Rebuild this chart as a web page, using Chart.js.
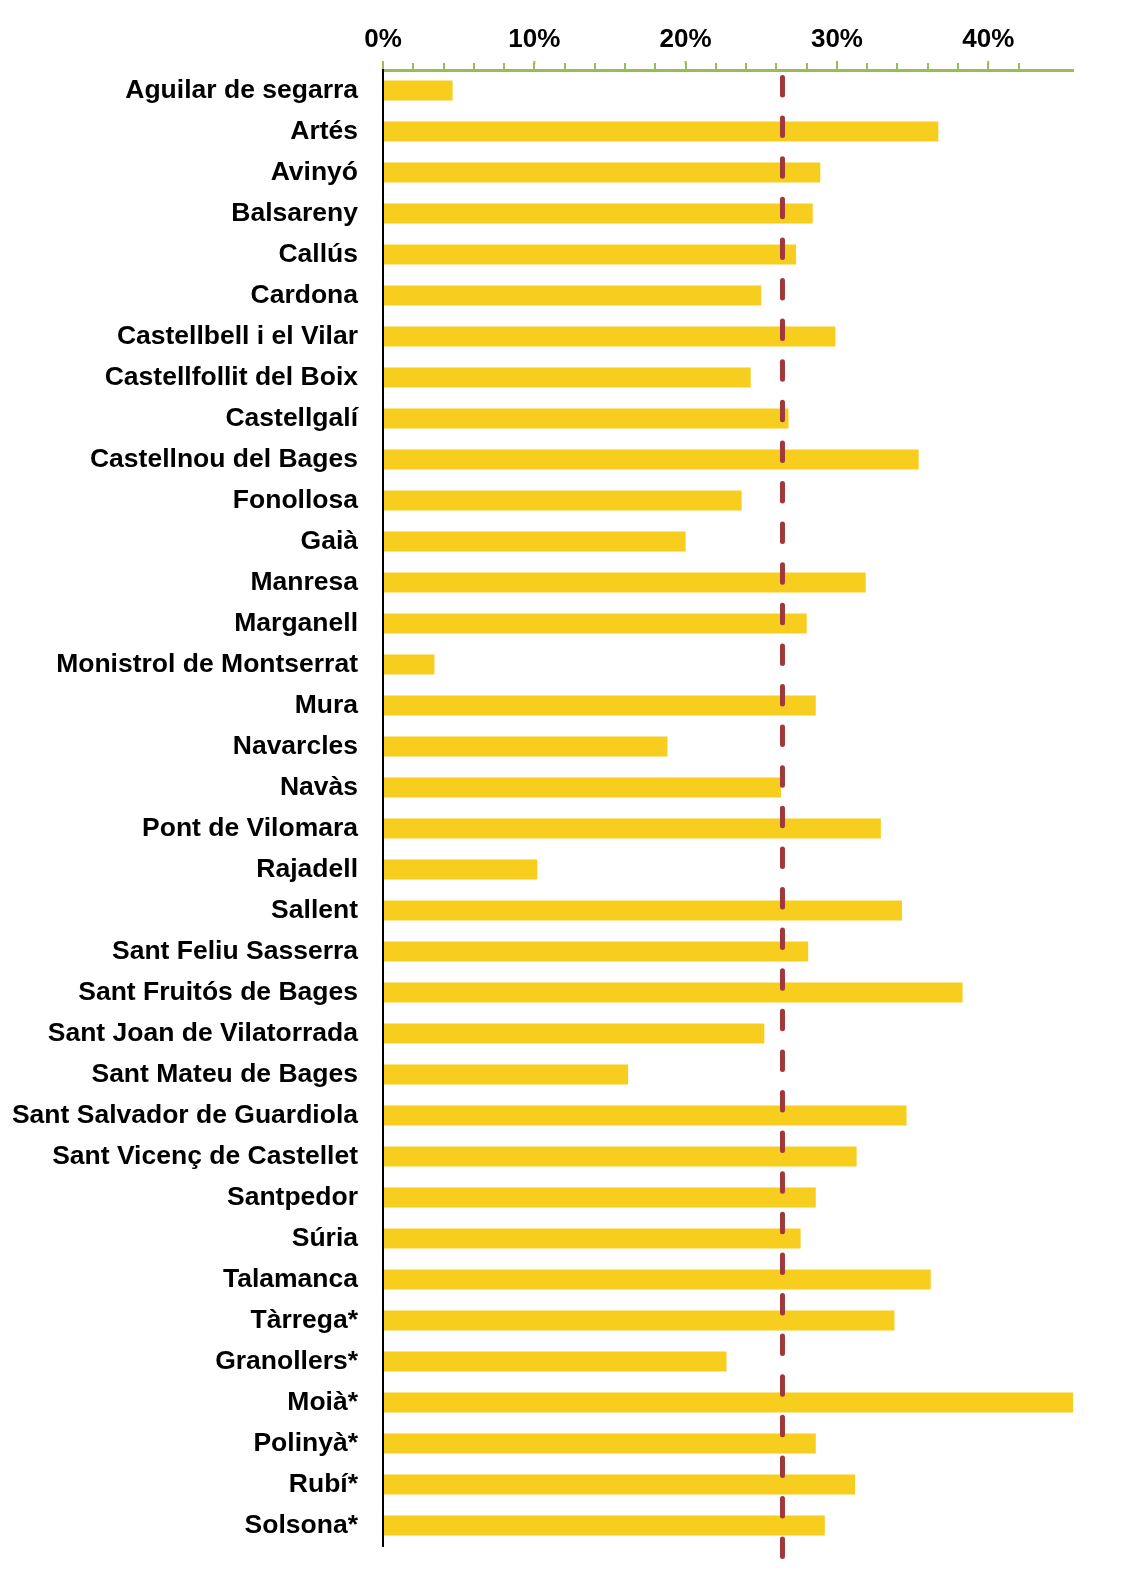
<!DOCTYPE html>
<html>
<head>
<meta charset="utf-8">
<script src="https://cdn.jsdelivr.net/npm/chart.js@4"></script>
<style>
  html, body { margin: 0; padding: 0; background: #fff; }
  #wrap { width: 1121px; height: 1571px; }
</style>
</head>
<body>
<div id="wrap"><canvas id="chart"></canvas></div>
<script>
// municipis i percentatges
const municipis = [
  "Aguilar de segarra", "Artés", "Avinyó", "Balsareny", "Callús", "Cardona",
  "Castellbell i el Vilar", "Castellfollit del Boix", "Castellgalí", "Castellnou del Bages",
  "Fonollosa", "Gaià", "Manresa", "Marganell", "Monistrol de Montserrat", "Mura",
  "Navarcles", "Navàs", "Pont de Vilomara", "Rajadell", "Sallent", "Sant Feliu Sasserra",
  "Sant Fruitós de Bages", "Sant Joan de Vilatorrada", "Sant Mateu de Bages",
  "Sant Salvador de Guardiola", "Sant Vicenç de Castellet", "Santpedor", "Súria",
  "Talamanca", "Tàrrega*", "Granollers*", "Moià*", "Polinyà*", "Rubí*", "Solsona*"
];
const percentatges = [
  4.6, 36.7, 28.9, 28.4, 27.3, 25.0,
  29.9, 24.3, 26.8, 35.4,
  23.7, 20.0, 31.9, 28.0, 3.4, 28.6,
  18.8, 26.3, 32.9, 10.2, 34.3, 28.1,
  38.3, 25.2, 16.2,
  34.6, 31.3, 28.6, 27.6,
  36.2, 33.8, 22.7, 45.6, 28.6, 31.2, 29.2
];
const mitjana = 26.4;
const eixMax = 45.6;

const FONT = "'Liberation Sans', Arial, sans-serif";

// línia discontínua de la mitjana + marques principals més llargues
const mitjanaPlugin = {
  id: 'mitjana',
  afterDatasetsDraw(chart) {
    const ctx = chart.ctx, area = chart.chartArea;
    const x = chart.scales.x.getPixelForValue(mitjana);
    ctx.save();
    ctx.strokeStyle = '#A0393A';
    ctx.lineWidth = 5;
    ctx.lineCap = 'round';
    ctx.setLineDash([17.5, 23.1]);
    ctx.beginPath();
    ctx.moveTo(x, area.top + 7.5);
    ctx.lineTo(x, area.bottom + 12);
    ctx.stroke();
    ctx.restore();
  },
  afterDraw(chart) {
    const ctx = chart.ctx, sx = chart.scales.x, top = chart.chartArea.top;
    ctx.save();
    ctx.strokeStyle = '#9BBB59';
    ctx.lineWidth = 2;
    sx.ticks.forEach(t => {
      if (t.value % 10 !== 0) return;
      const x = sx.getPixelForValue(t.value);
      ctx.beginPath();
      ctx.moveTo(x, top - 6);
      ctx.lineTo(x, top - 9);
      ctx.stroke();
    });
    ctx.restore();
  }
};

new Chart(document.getElementById('chart'), {
  type: 'bar',
  data: {
    labels: municipis,
    datasets: [{ data: percentatges, backgroundColor: '#F7CD1E', barPercentage: 0.49, categoryPercentage: 1 }]
  },
  options: {
    indexAxis: 'y',
    responsive: true,
    maintainAspectRatio: false,
    animation: false,
    layout: { padding: { left: 0, right: 48, top: 0, bottom: 25 } },
    plugins: { legend: { display: false }, tooltip: { enabled: false } },
    scales: {
      x: {
        position: 'top',
        min: 0, max: eixMax,
        afterFit(scale) { scale.height = 70; scale.paddingLeft = 0; scale.paddingRight = 0; },
        afterBuildTicks(scale) { scale.ticks = scale.ticks.filter(t => Math.abs(t.value / 2 - Math.round(t.value / 2)) < 1e-6); },
        ticks: {
          stepSize: 2, autoSkip: false, maxRotation: 0, padding: 8,
          color: '#000', font: { family: FONT, size: 26, weight: 'bold' },
          callback: v => (v % 10 === 0 ? v + '%' : '')
        },
        grid: { drawOnChartArea: false, drawTicks: true, tickLength: 7, color: '#9BBB59', lineWidth: 2 },
        border: { color: '#9BBB59', width: 3 }
      },
      y: {
        afterFit(scale) { scale.width = 383; scale.paddingTop = 0; scale.paddingBottom = 0; },
        ticks: { autoSkip: false, padding: 25, color: '#000', font: { family: FONT, size: 26.5, weight: 'bold' } },
        grid: { display: false, drawTicks: false },
        border: { color: '#000', width: 2 }
      }
    }
  },
  plugins: [mitjanaPlugin]
});
</script>
</body>
</html>
